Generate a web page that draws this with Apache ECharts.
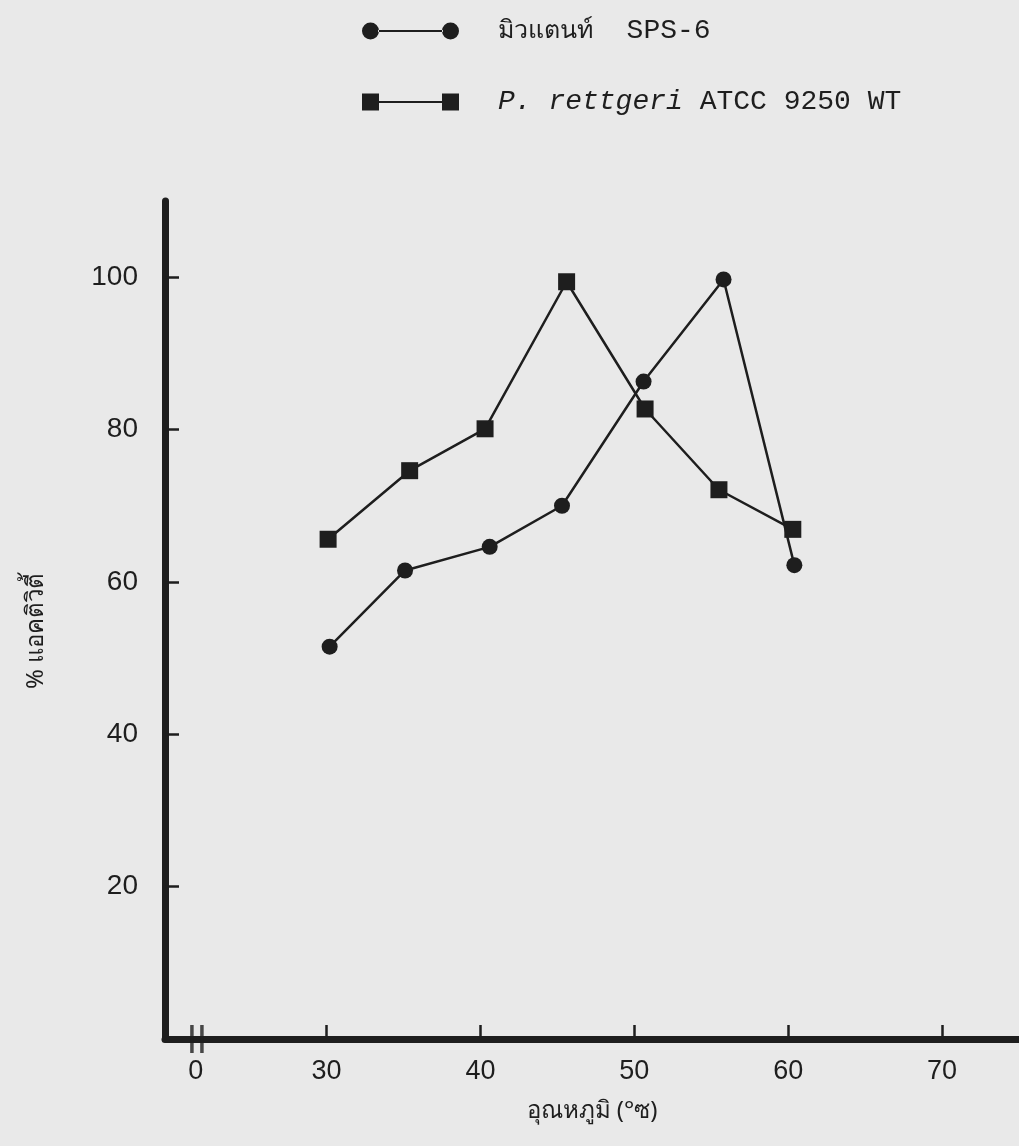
<!DOCTYPE html>
<html>
<head>
<meta charset="utf-8">
<script src="https://cdn.jsdelivr.net/npm/echarts@6/dist/echarts.min.js"></script>
<style>
  html, body { margin: 0; padding: 0; background: #e9e9e9; }
  #chart { width: 1019px; height: 1146px; }
</style>
</head>
<body>
<div id="chart"></div>
<script>
// Temperature (°C) and relative activity (%) for the two strains
const mutantTemp = [30.2, 35.1, 40.6, 45.3, 50.6, 55.8, 60.4];
const mutantActivity = [51.5, 61.5, 64.6, 70.0, 86.3, 99.7, 62.2];
const wildTemp = [30.1, 35.4, 40.3, 45.6, 50.7, 55.5, 60.3];
const wildActivity = [65.6, 74.6, 80.1, 99.4, 82.7, 72.1, 66.9];

const seriesNames = ['มิวแตนท์  SPS-6', 'P. rettgeri ATCC 9250 WT'];
const xTicks = [30, 40, 50, 60, 70];
const xZeroLabelAt = 21.5;          // where the "0" of the broken axis is labelled
const xBreakMarks = [21.25, 21.9];  // the "||" break on the temperature axis
const yTicks = [20, 40, 60, 80, 100];

const ink = '#1e1e1e';

function pairs(xs, ys) { return xs.map((x, i) => [x, ys[i]]); }

// legend glyphs: marker - line - marker
const circleIcon = 'path://M0,8.5a8.5,8.5 0 1,0 17,0a8.5,8.5 0 1,0 -17,0Z M16,7.5H81V9.5H16Z M80,8.5a8.5,8.5 0 1,0 17,0a8.5,8.5 0 1,0 -17,0Z';
const squareIcon = 'path://M0,0H17V17H0Z M16,7.5H81V9.5H16Z M80,0H97V17H80Z';

const monoLatin = { fontFamily: 'Liberation Mono', fontSize: 28, color: ink, lineHeight: 28 };
const legendBase = {
  orient: 'horizontal',
  left: 357,
  itemWidth: 97,
  itemHeight: 17,
  selectedMode: false,
  textStyle: {
    color: ink,
    padding: [0, 0, 0, 34],
    rich: {
      i: Object.assign({}, monoLatin, { fontStyle: 'italic' }),
      n: monoLatin,
      t: { fontFamily: 'Noto Sans', fontSize: 25, color: ink, lineHeight: 28 }
    }
  },
  formatter: function (name) {
    if (name === seriesNames[1]) return '{i|P. rettgeri}{n| ATCC 9250 WT}';
    return '{t|มิวแตนท์}{n|  SPS-6}';
  }
};

const chart = echarts.init(document.getElementById('chart'));
chart.setOption({
  backgroundColor: '#e9e9e9',
  animation: false,
  legend: [
    Object.assign({}, legendBase, { top: 12, data: [{ name: seriesNames[0], icon: circleIcon }] }),
    Object.assign({}, legendBase, { top: 83, data: [{ name: seriesNames[1], icon: squareIcon }] })
  ],
  grid: { left: 165, right: 0, top: 201, bottom: 107, outerBoundsMode: 'none', containLabel: false },
  xAxis: {
    type: 'value',
    min: 19.5,
    max: 75,
    name: 'อุณหภูมิ (°ซ)',
    nameLocation: 'middle',
    nameGap: 60,
    nameTextStyle: { fontSize: 24, color: ink, fontFamily: 'Noto Sans' },
    axisLine: { lineStyle: { color: ink, width: 7 } },
    axisTick: { inside: true, length: 14, lineStyle: { color: ink, width: 2.5 }, customValues: xTicks },
    axisLabel: {
      customValues: [xZeroLabelAt].concat(xTicks),
      formatter: v => (Math.abs(v - xZeroLabelAt) < 1e-6 ? '0' : String(v)),
      margin: 19,
      fontSize: 27,
      color: ink,
      fontFamily: 'Liberation Sans'
    },
    splitLine: { show: false }
  },
  yAxis: {
    type: 'value',
    min: 0,
    max: 110,
    name: '% แอคติวิตี้',
    nameLocation: 'middle',
    nameGap: 117,
    nameRotate: 90,
    nameTextStyle: { fontSize: 24, color: ink, fontFamily: 'Noto Sans', padding: [0, 22, 0, 0] },
    axisLine: { lineStyle: { color: ink, width: 7 } },
    axisTick: { inside: true, length: 14, lineStyle: { color: ink, width: 2.5 }, customValues: yTicks },
    axisLabel: {
      customValues: yTicks,
      margin: 27,
      fontSize: 28,
      color: ink,
      fontFamily: 'Liberation Sans'
    },
    splitLine: { show: false }
  },
  series: [
    {
      name: seriesNames[0],
      type: 'line',
      data: pairs(mutantTemp, mutantActivity),
      symbol: 'circle',
      symbolSize: 16,
      itemStyle: { color: ink },
      lineStyle: { color: ink, width: 2.5 }
    },
    {
      name: seriesNames[1],
      type: 'line',
      data: pairs(wildTemp, wildActivity),
      symbol: 'rect',
      symbolSize: 17,
      itemStyle: { color: ink },
      lineStyle: { color: ink, width: 2.5 }
    },
    {
      type: 'scatter',
      silent: true,
      clip: false,
      data: xBreakMarks.map(x => [x, 0]),
      symbol: 'rect',
      symbolSize: [3.5, 28],
      itemStyle: { color: ink },
      z: 5
    }
  ]
});
</script>
</body>
</html>
